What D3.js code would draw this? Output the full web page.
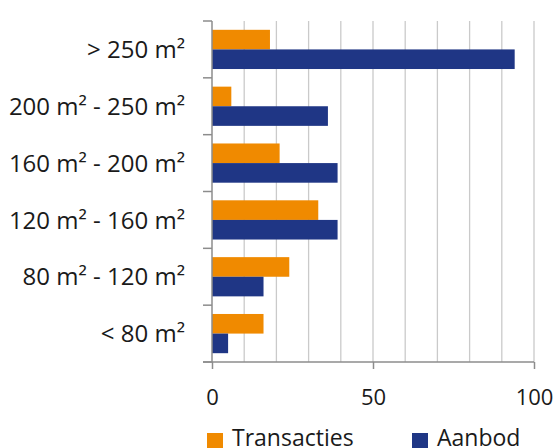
<!DOCTYPE html>
<html>
<head>
<meta charset="utf-8">
<script src="https://cdn.jsdelivr.net/npm/d3@7"></script>
<style>
  body { margin: 0; background: #fff; }
  text { font-family: "Open Sans", "Noto Sans", sans-serif; fill: #1a1a1a; }
</style>
</head>
<body>
<svg></svg>
<script>
const categories = ["> 250 m²", "200 m² - 250 m²", "160 m² - 200 m²", "120 m² - 160 m²", "80 m² - 120 m²", "< 80 m²"];
const seriesNames = ["Transacties", "Aanbod"];
const transacties = [18, 6, 21, 33, 24, 16];
const aanbod = [94, 36, 39, 39, 16, 5];
const xTicks = [0, 50, 100];
const gridTicks = [0, 10, 20, 30, 40, 50, 60, 70, 80, 90, 100];
const colors = ["#f08a00", "#1f3685"];

let width = 556;
let height = 448;
let plotLeft = 212;
let plotRight = 534;
let plotTop = 21;
let plotBottom = 362;

const svg = d3.select("svg")
  .attr("width", width)
  .attr("height", height);

const xScale = d3.scaleLinear().domain([0, 100]).range([plotLeft, plotRight]);
const yScale = d3.scaleBand().domain(categories).range([plotTop, plotBottom]).paddingInner(0.31).paddingOuter(0.155);
const inner = d3.scaleBand().domain(seriesNames).range([0, yScale.bandwidth()]);

// grid
svg.append("g")
  .selectAll("line")
  .data(gridTicks.slice(1))
  .enter()
  .append("line")
  .attr("x1", d => xScale(d))
  .attr("x2", d => xScale(d))
  .attr("y1", plotTop)
  .attr("y2", plotBottom)
  .attr("stroke", "#cacaca")
  .attr("stroke-width", 1.3);

const rows = categories.map((c, i) => ({cat: c, values: [transacties[i], aanbod[i]]}));

const groups = svg.append("g")
  .selectAll("g")
  .data(rows)
  .enter()
  .append("g")
  .attr("transform", d => `translate(0, ${yScale(d.cat)})`);

groups.selectAll("rect")
  .data(d => d.values.map((v, j) => ({name: seriesNames[j], value: v, j: j})))
  .enter()
  .append("rect")
  .attr("x", xScale(0))
  .attr("y", d => inner(d.name))
  .attr("width", d => xScale(d.value) - xScale(0))
  .attr("height", inner.bandwidth())
  .attr("fill", d => colors[d.j]);

// y axis
const yAxis = d3.axisLeft(yScale).tickSize(0).tickPadding(27);
const yg = svg.append("g")
  .attr("transform", `translate(${plotLeft}, 0)`)
  .call(yAxis);
yg.select(".domain").remove();
yg.selectAll("text")
  .style("font-size", "24px")
  .attr("dy", "0.36em")
  .attr("fill", "#1a1a1a")
  .attr("font-family", null);

// left axis line with band-boundary ticks
const bounds = categories.map(c => yScale(c) - yScale.step() * yScale.paddingInner() / 2);
bounds.push(plotBottom);
bounds[0] = plotTop;
svg.append("line")
  .attr("x1", plotLeft).attr("x2", plotLeft)
  .attr("y1", plotTop).attr("y2", plotBottom)
  .attr("stroke", "#8c8c8c").attr("stroke-width", 1.5);
svg.append("g")
  .selectAll("line")
  .data(bounds)
  .enter()
  .append("line")
  .attr("x1", plotLeft - 9).attr("x2", plotLeft)
  .attr("y1", d => d).attr("y2", d => d)
  .attr("stroke", "#8c8c8c").attr("stroke-width", 1.5);

// x axis
const xAxis = d3.axisBottom(xScale).tickValues(xTicks).tickSize(7).tickPadding(20);
const xg = svg.append("g")
  .attr("transform", `translate(0, ${plotBottom})`)
  .call(xAxis);
xg.select(".domain").attr("stroke", "#8c8c8c").attr("stroke-width", 1.5).attr("d", `M${plotLeft - 9},0H${plotRight}`);
xg.selectAll(".tick line").attr("stroke", "#8c8c8c").attr("stroke-width", 1.5);
xg.selectAll("text").style("font-size", "22px").attr("fill", "#1a1a1a").attr("font-family", null);

// legend
const legend = svg.append("g");
const legendX = [207, 412];
seriesNames.forEach((n, i) => {
  legend.append("rect")
    .attr("x", legendX[i]).attr("y", 433)
    .attr("width", 16).attr("height", 16)
    .attr("fill", colors[i]);
  legend.append("text")
    .attr("x", legendX[i] + 25).attr("y", 446)
    .style("font-size", "23px")
    .text(n);
});
</script>
</body>
</html>
